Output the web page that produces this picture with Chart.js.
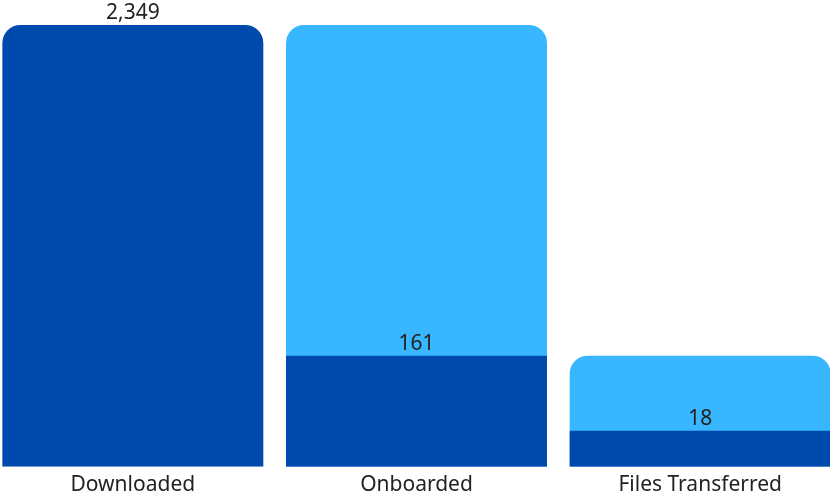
<!DOCTYPE html>
<html>
<head>
<meta charset="utf-8">
<script src="https://cdn.jsdelivr.net/npm/chart.js@4/dist/chart.umd.min.js"></script>
<style>
  html, body { margin: 0; padding: 0; background: #fff; overflow: hidden; }
  body { width: 830px; height: 494px; position: relative; }
  #funnelChart { position: absolute; left: -9px; top: 0; }
</style>
</head>
<body>
<canvas id="funnelChart" width="851" height="504"></canvas>
<script>
// ファネルの各段階
const stages = ['Downloaded', 'Onboarded', 'Files Transferred'];
// 各段階の件数
const stageCounts = [2349, 161, 18];
// 前の段階の件数（背景バー）
const previousCounts = [null, 2349, 161];

const darkBlue = '#004AAD';
const lightBlue = '#38B6FF';
const textColor = '#222222';
const fontFamily = '"Noto Sans", "Open Sans", sans-serif';

// べき乗スケール（小さい値も見えるように圧縮）
class PowScale extends Chart.LinearScale {
    _pow(v) {
        return Math.pow(Math.max(v, 0), this.options.exponent);
    }
    getPixelForValue(value) {
        const lo = this._pow(this.min);
        const hi = this._pow(this.max);
        const t = (this._pow(value) - lo) / (hi - lo);
        return this.getPixelForDecimal(t);
    }
    getValueForPixel(pixel) {
        const lo = this._pow(this.min);
        const hi = this._pow(this.max);
        const t = this.getDecimalForPixel(pixel);
        return Math.pow(lo + t * (hi - lo), 1 / this.options.exponent);
    }
}
PowScale.id = 'pow';
PowScale.defaults = Object.assign({}, Chart.LinearScale.defaults, { exponent: 0.5 });
Chart.register(PowScale);

// バー上の数値ラベル
const valueLabels = {
    id: 'valueLabels',
    afterDatasetsDraw(chart) {
        const ctx = chart.ctx;
        const meta = chart.getDatasetMeta(0);
        ctx.save();
        ctx.font = '21px ' + fontFamily;
        ctx.fillStyle = textColor;
        ctx.textAlign = 'center';
        ctx.textBaseline = 'middle';
        meta.data.forEach((bar, i) => {
            ctx.fillText(stageCounts[i].toLocaleString('en-US'), bar.x, bar.y - 12);
        });
        ctx.restore();
    }
};

const chartContext = document.getElementById('funnelChart');

new Chart(chartContext, {
    type: 'bar',
    data: {
        labels: stages,
        datasets: [
            {
                label: 'Count',
                data: stageCounts,
                backgroundColor: darkBlue,
                borderRadius: (c) => c.dataIndex === 0
                    ? { topLeft: 18, topRight: 18, bottomLeft: 0, bottomRight: 0 }
                    : 0,
                borderSkipped: 'bottom',
                barPercentage: 0.92,
                categoryPercentage: 1
            },
            {
                label: 'Previous',
                data: previousCounts,
                backgroundColor: lightBlue,
                borderRadius: { topLeft: 18, topRight: 18, bottomLeft: 0, bottomRight: 0 },
                borderSkipped: 'bottom',
                barPercentage: 0.92,
                categoryPercentage: 1
            }
        ]
    },
    options: {
        responsive: false,
        animation: false,
        layout: { padding: { top: 25, left: 0, right: 0, bottom: 0 } },
        plugins: {
            legend: { display: false },
            tooltip: { enabled: false }
        },
        scales: {
            x: {
                stacked: true,
                grid: { display: false, drawTicks: false },
                border: { display: false },
                ticks: {
                    color: textColor,
                    font: { family: fontFamily, size: 21 },
                    padding: 6
                }
            },
            y: {
                type: 'pow',
                exponent: 0.515,
                stacked: false,
                min: 0,
                max: 2349,
                display: false
            }
        }
    },
    plugins: [valueLabels]
});
</script>
</body>
</html>
